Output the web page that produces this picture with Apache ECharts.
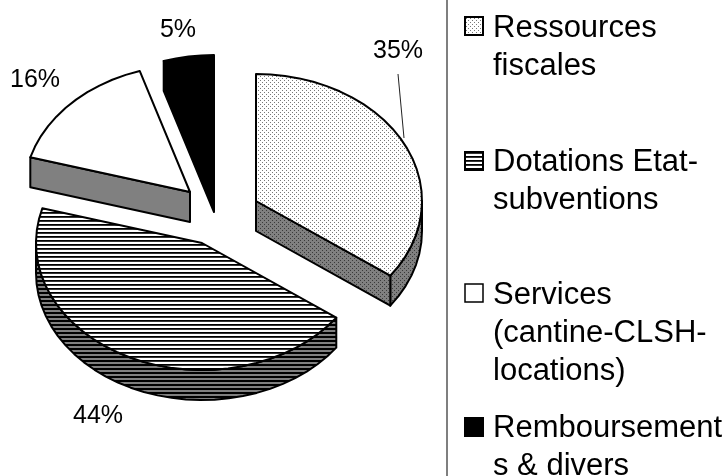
<!DOCTYPE html>
<html><head><meta charset="utf-8">
<style>html,body{margin:0;padding:0;background:#fff}#c{width:727px;height:476px}</style>
<script src="https://cdn.jsdelivr.net/npm/echarts@6/dist/echarts.min.js"></script>
</head><body><div id="c"></div>
<script>
const categories = ['Ressources fiscales','Dotations Etat-subventions','Services (cantine-CLSH-locations)','Remboursements & divers'];
const legendLines = ['Ressources\nfiscales','Dotations Etat-\nsubventions','Services\n(cantine-CLSH-\nlocations)','Remboursement\ns & divers'];
const values = [35.0,44.4,15.7,4.9];

// layout only
const FONT='"Liberation Sans",Arial,sans-serif';
const RX=166,RY=127,DEPTH=30;
const apex=[[256,201],[202,243],[190,192],[214,182]];
const labelPos=[[398,51],[98,416],[35,80],[178,30]];
const legendY=[17,152,284,418];
const legendTextY=[9,143,276,409];

function tile(w,h,draw){const c=document.createElement('canvas');c.width=w;c.height=h;const g=c.getContext('2d');draw(g);return {image:c,repeat:'repeat'};}
const dots=tile(4,4,g=>{g.fillStyle='#fff';g.fillRect(0,0,4,4);g.fillStyle='#777';g.fillRect(0,0,1,1);g.fillRect(2,2,1,1);});
const dotsDark=tile(4,4,g=>{g.fillStyle='#808080';g.fillRect(0,0,4,4);g.fillStyle='#3a3a3a';g.fillRect(0,0,1,1);g.fillRect(2,2,1,1);});
const lines=tile(4,4,g=>{g.fillStyle='#fff';g.fillRect(0,0,4,4);g.fillStyle='#000';g.fillRect(0,0,4,1);g.fillStyle='#333';g.fillRect(0,1,4,1);});
const linesDark=tile(4,4,g=>{g.fillStyle='#808080';g.fillRect(0,0,4,4);g.fillStyle='#000';g.fillRect(0,0,4,2);});
const topFill=[dots,lines,'#fff','#000'];
const sideFill=[dotsDark,linesDark,'#808080','#000'];
const swatch=[dots,lines,'#fff','#000'];

const total=values.reduce((a,b)=>a+b,0);
let acc=0;
const angles=values.map(v=>{const s=acc;acc+=v;return [s/total*360,acc/total*360];});
const pt=(c,a,d=0)=>{const r=a*Math.PI/180;return [c[0]+RX*Math.sin(r),c[1]-RY*Math.cos(r)+d];};
function arc(c,a0,a1,d=0){const n=Math.max(2,Math.round(Math.abs(a1-a0)/5));const o=[];for(let i=0;i<=n;i++)o.push(pt(c,a0+(a1-a0)*i/n,d));return o;}
const edge={stroke:'#000',lineWidth:2,lineJoin:'round'};

function renderItem(params,api){
  const i=api.value(0),c=apex[i],[a0,a1]=angles[i],kids=[];
  const poly=(points,fill)=>kids.push({type:'polygon',shape:{points},style:Object.assign({fill},edge)});
  // outer rim (front half only)
  const r0=Math.max(a0,90),r1=Math.min(a1,270);
  if(r1>r0) poly(arc(c,r0,r1).concat(arc(c,r1,r0,DEPTH)),sideFill[i]);
  // cut faces
  if(a1<180){const p=pt(c,a1);poly([c,p,[p[0],p[1]+DEPTH],[c[0],c[1]+DEPTH]],sideFill[i]);}
  if(a0>180&&a0<360){const p=pt(c,a0);poly([c,p,[p[0],p[1]+DEPTH],[c[0],c[1]+DEPTH]],sideFill[i]);}
  // top face
  poly([c].concat(arc(c,a0,a1)),topFill[i]);
  kids.push({type:'text',style:{text:Math.round(values[i])+'%',x:labelPos[i][0],y:labelPos[i][1],align:'center',verticalAlign:'middle',font:'25px '+FONT,fill:'#000'}});
  return {type:'group',children:kids};
}

const graphic=[
 {type:'line',shape:{x1:447,y1:0,x2:447,y2:476},style:{stroke:'#555',lineWidth:1.5}},
 {type:'line',shape:{x1:398,y1:74,x2:404,y2:138},style:{stroke:'#222',lineWidth:1},z:10}
];
legendLines.forEach((t,i)=>{
 graphic.push({type:'rect',shape:{x:465,y:legendY[i],width:18,height:18},style:{fill:swatch[i],stroke:'#000',lineWidth:i===2?1.5:2}});
 graphic.push({type:'text',x:493,y:legendTextY[i],style:{text:t,font:'31px '+FONT,lineHeight:38,fill:'#000'}});
});

const chart=echarts.init(document.getElementById('c'),null,{renderer:'canvas'});
chart.setOption({
 animation:false,
 backgroundColor:'#fff',
 graphic,
 series:[{type:'custom',coordinateSystem:'none',renderItem,silent:true,
   data:categories.map((n,i)=>({name:n,value:[i,values[i]]}))}]
});
</script></body></html>
